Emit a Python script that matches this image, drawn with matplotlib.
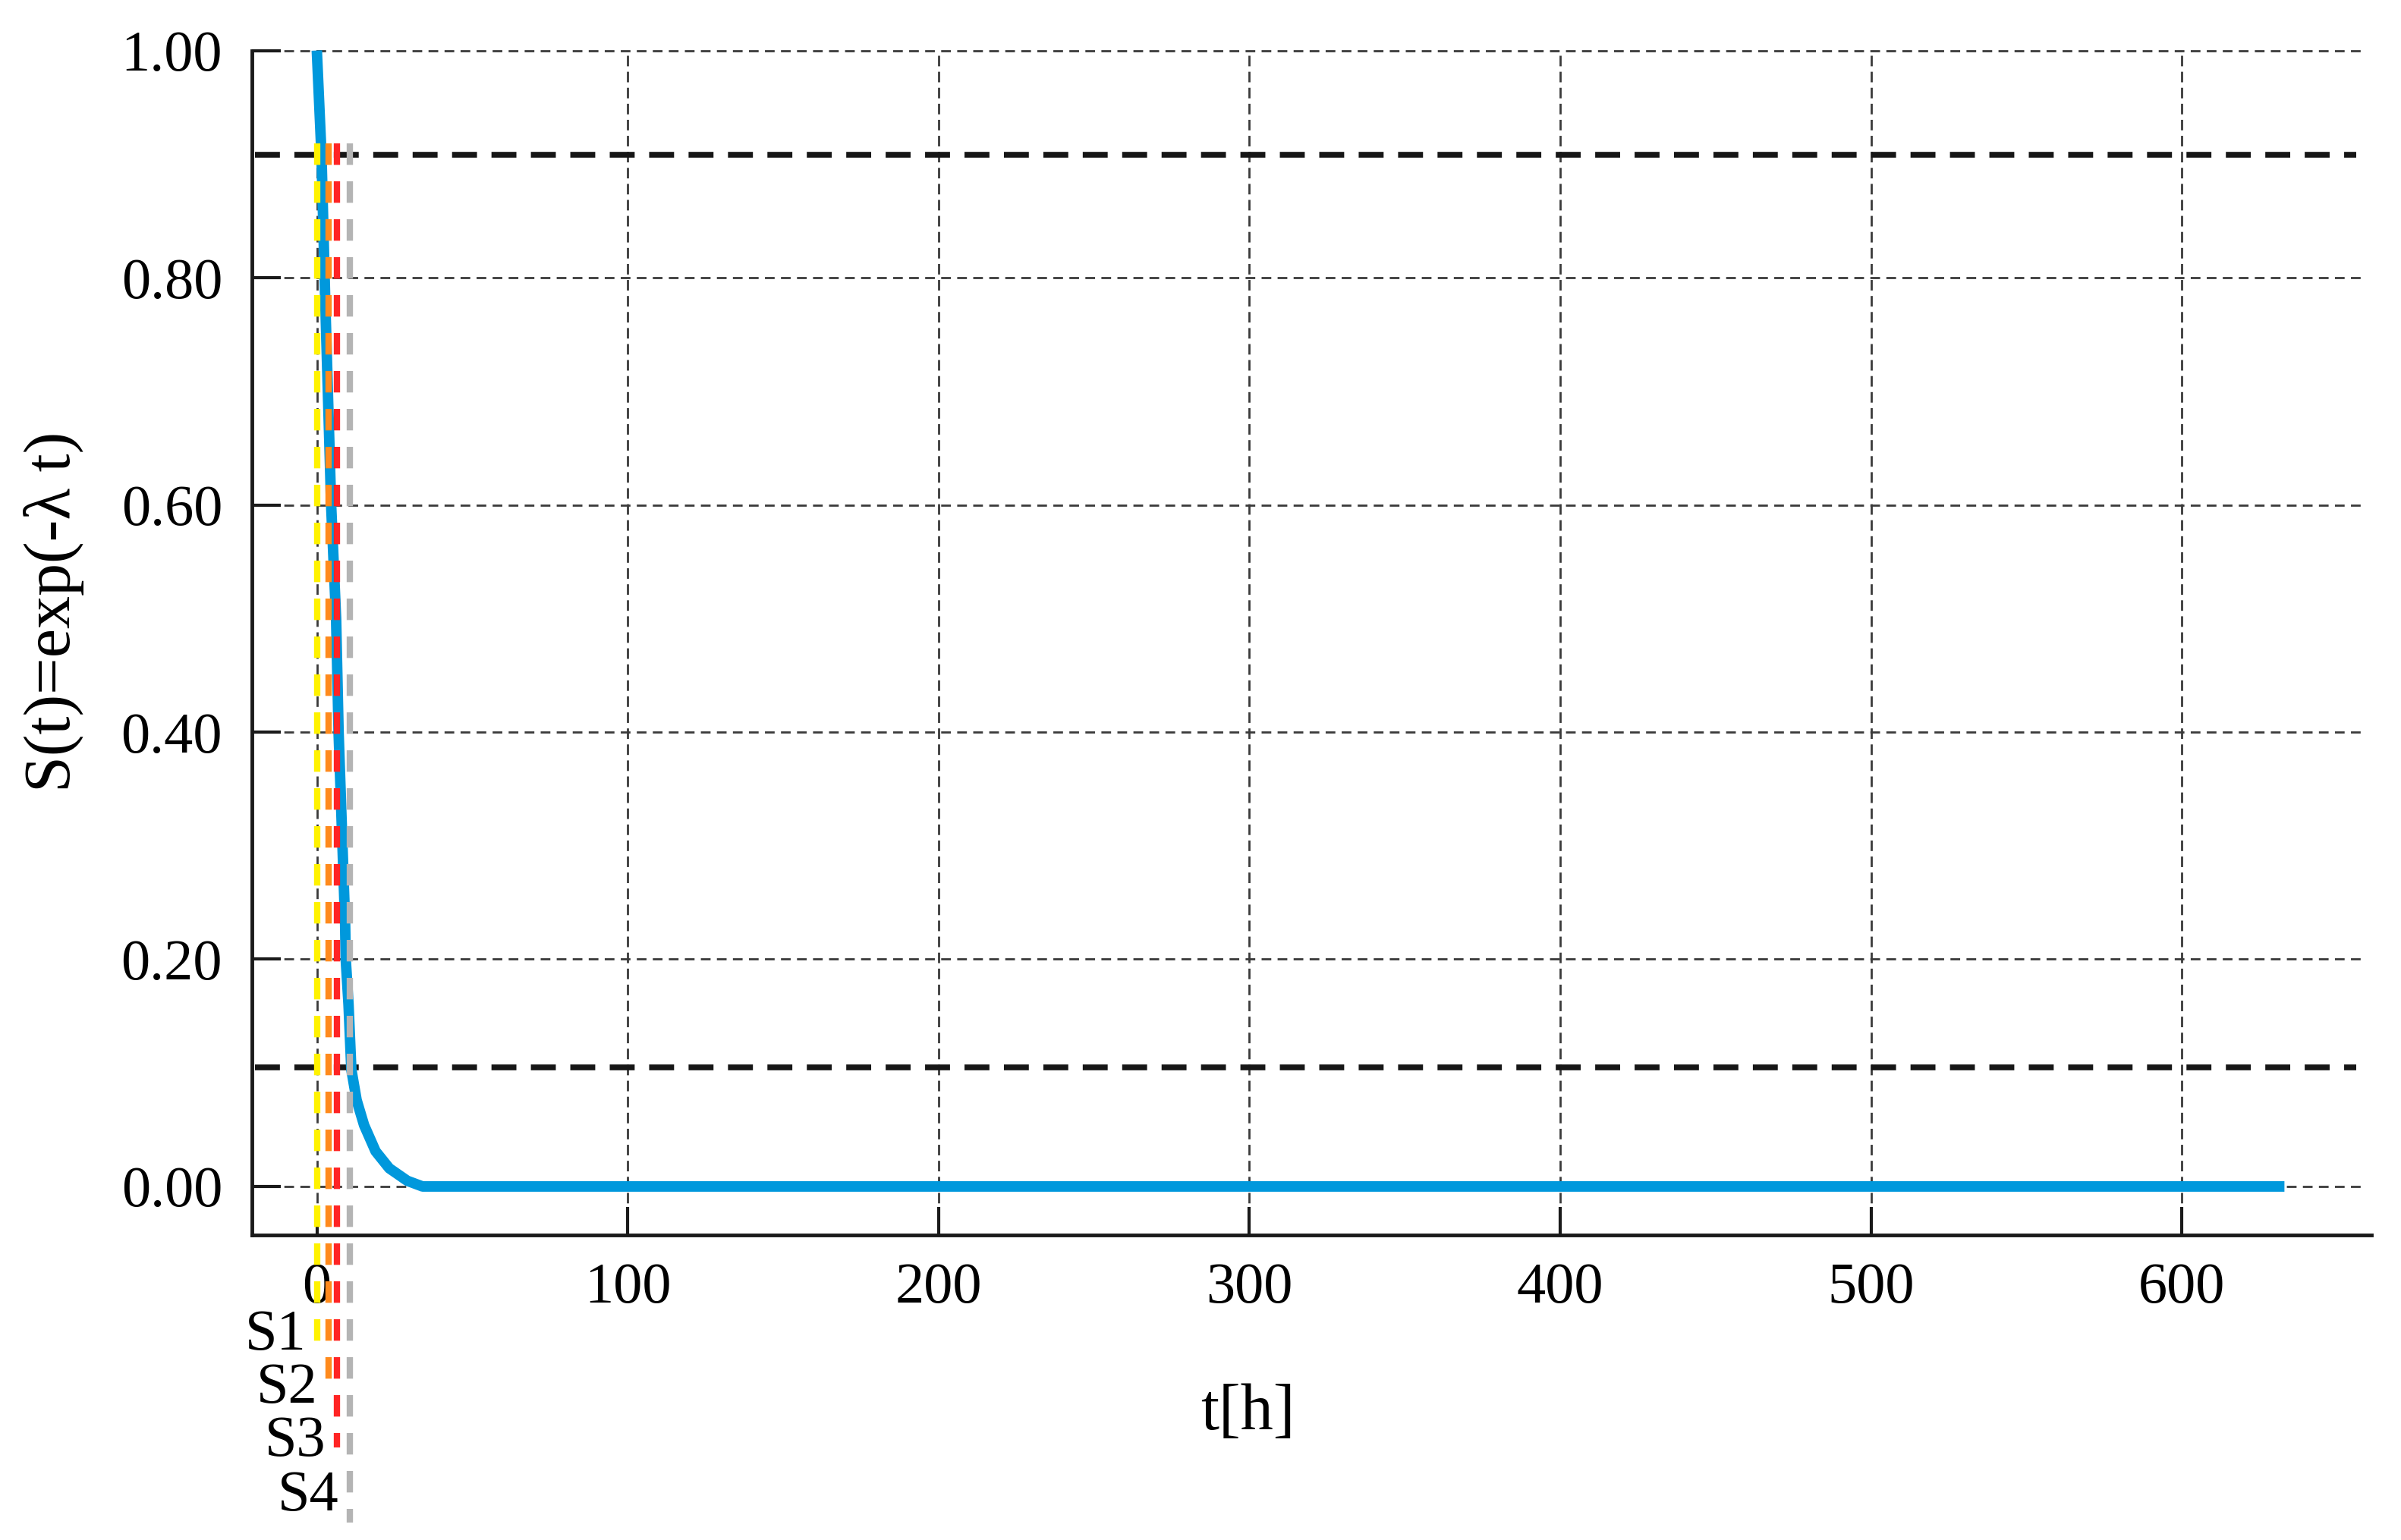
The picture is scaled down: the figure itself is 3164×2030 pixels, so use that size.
import numpy as np
import matplotlib
matplotlib.use("Agg")
import matplotlib.pyplot as plt

plt.rcParams['font.family'] = ['Liberation Serif', 'DejaVu Serif']

# survival curve
t = [0, 1.5, 2.7, 4.6, 6.2, 7.0, 9.1, 9.3, 10.2, 11.1, 12.8, 15.2, 18.9, 23.3, 29.1, 34.0, 633]
S = [1.0, 0.908, 0.78, 0.60, 0.50, 0.40, 0.232, 0.20, 0.16, 0.103, 0.076, 0.054, 0.031, 0.016, 0.005, 0.0, 0.0]

# threshold levels (thick dashed)
levels = [0.908, 0.105]

# stage markers S1..S4
stage_names = ['S1', 'S2', 'S3', 'S4']
stage_t = [0.0, 3.7, 6.4, 10.6]
stage_colors = ['#FFF200', '#FF8A1C', '#FF2424', '#B4B4B4']
stage_top = 0.918
stage_bottom = [-0.136, -0.183, -0.230, -0.296]
label_y = [-0.131, -0.178, -0.225, -0.273]

xticks = [0, 100, 200, 300, 400, 500, 600]
yticks = [0.0, 0.2, 0.4, 0.6, 0.8, 1.0]

fig = plt.figure(figsize=(31.64, 20.30), dpi=100)
ax = fig.add_axes([0.1049, 0.198, 0.8828, 0.7692])
ax.set_xlim(-20.9, 661)
ax.set_ylim(-0.0428, 1.0)

# grid
for x in xticks:
    ax.plot([x, x], [-0.0428, 1.0], color='#3a3a3a', lw=2.0, ls=(0, (5, 2.6)), zorder=1, clip_on=False)
for y in yticks:
    ax.plot([-20.9, 659], [y, y], color='#3a3a3a', lw=2.0, ls=(0, (4.6, 3.0)), zorder=1, clip_on=False)

ax.hlines(levels, -20, 656, colors='#161616', lw=5.5, linestyles=(0, (4.3, 2.5)), zorder=2)

ax.plot(t, S, color='#0098DC', lw=10, zorder=3, clip_on=False,
        solid_capstyle='butt', solid_joinstyle='round')

for name, x, c, yb, yl in zip(stage_names, stage_t, stage_colors, stage_bottom, label_y):
    ax.plot([x, x], [stage_top, yb], color=c, lw=6.0, ls=(0, (3.4, 2.6)), zorder=4, clip_on=False)
    ax.annotate(name, xy=(x, yl), xytext=(-10, 0), textcoords='offset points',
                ha='right', va='center', fontsize=55, annotation_clip=False)

ax.set_xticks(xticks)
ax.set_yticks(yticks)
ax.set_xticklabels([str(v) for v in xticks])
ax.set_yticklabels(['%.2f' % v for v in yticks])
ax.tick_params(axis='both', direction='in', length=27, width=3, labelsize=55, color='#1a1a1a')
ax.tick_params(axis='x', pad=26)
ax.tick_params(axis='y', pad=28)

for side in ['top', 'right']:
    ax.spines[side].set_visible(False)
for side in ['left', 'bottom']:
    ax.spines[side].set_linewidth(3.5)
    ax.spines[side].set_color('#1a1a1a')

ax.set_xlabel('t[h]', fontsize=62)
ax.xaxis.set_label_coords(0.47, -0.125)
ax.set_ylabel('S(t)=exp(-λ t)', fontsize=62)
ax.yaxis.set_label_coords(-0.079, 0.526)

fig.savefig('out.png', dpi=100)
